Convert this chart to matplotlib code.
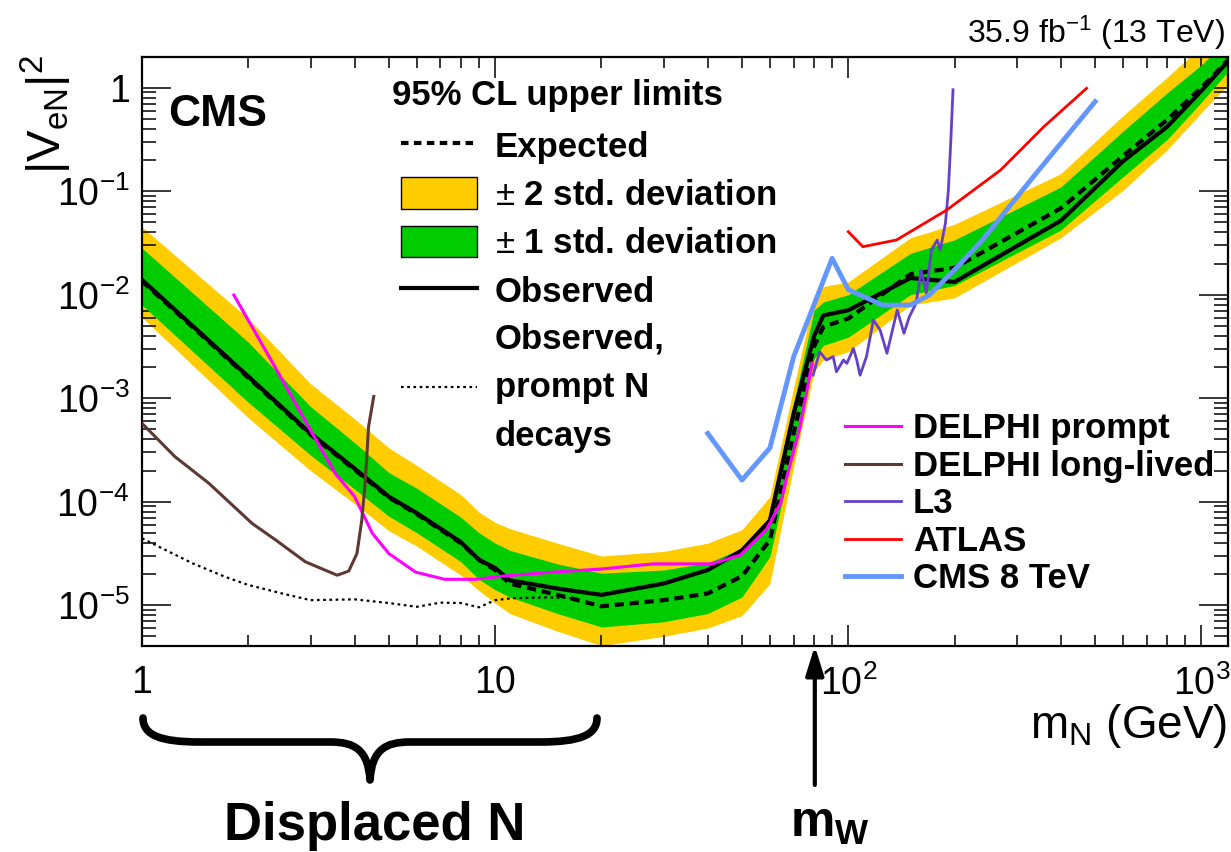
import numpy as np
import matplotlib.pyplot as plt
from matplotlib.lines import Line2D
from matplotlib.patches import Patch, PathPatch
from matplotlib.path import Path

plt.rcParams['font.family'] = ['Liberation Sans', 'DejaVu Sans']
plt.rcParams['mathtext.fontset'] = 'custom'
plt.rcParams['mathtext.rm'] = 'Liberation Sans'
plt.rcParams['mathtext.it'] = 'Liberation Sans:italic'
plt.rcParams['mathtext.bf'] = 'Liberation Sans:bold'

# heavy neutrino mass points (GeV) and 95% CL limits on |V_eN|^2
mass = [1, 2, 3, 4, 5, 6, 7, 8, 9, 10, 11, 15, 20, 30, 40, 50, 60, 70, 80, 85,
        100, 150, 200, 400, 600, 800, 1000, 1200]
obs = [1.39e-2, 1.62e-3, 4.57e-4, 2.09e-4, 1.12e-4, 7.76e-5, 5.50e-5, 4.07e-5,
       2.75e-5, 2.29e-5, 1.74e-5, 1.45e-5, 1.26e-5, 1.62e-5, 2.19e-5, 3.39e-5,
       6.61e-5, 7.08e-4, 3.98e-3, 6.31e-3, 7.08e-3, 1.45e-2, 1.33e-2, 5.19e-2,
       0.195, 0.420, 0.933, 1.86]
exp_lim = [1.35e-2, 1.58e-3, 4.47e-4, 2.04e-4, 1.10e-4, 7.59e-5, 5.37e-5, 3.98e-5,
           2.75e-5, 2.19e-5, 1.62e-5, 1.26e-5, 9.77e-6, 1.12e-5, 1.30e-5, 1.91e-5,
           4.27e-5, 4.57e-4, 3.16e-3, 4.90e-3, 5.89e-3, 1.58e-2, 1.82e-2, 6.84e-2,
           0.219, 0.490, 1.0, 1.91]
exp_m2 = [6.03e-3, 6.46e-4, 2.00e-4, 9.55e-5, 5.25e-5, 3.72e-5, 2.63e-5, 1.95e-5,
          1.38e-5, 1.05e-5, 8.32e-6, 5.62e-6, 4.07e-6, 5.01e-6, 6.03e-6, 7.94e-6,
          1.62e-5, 2.19e-4, 1.82e-3, 2.34e-3, 2.82e-3, 7.94e-3, 9.33e-3, 3.55e-2,
          0.102, 0.251, 0.575, 1.10]
exp_m1 = [7.94e-3, 9.12e-4, 2.82e-4, 1.32e-4, 7.24e-5, 5.01e-5, 3.55e-5, 2.63e-5,
          1.78e-5, 1.41e-5, 1.20e-5, 8.32e-6, 6.17e-6, 6.92e-6, 8.32e-6, 1.20e-5,
          2.95e-5, 3.16e-4, 2.40e-3, 3.24e-3, 3.89e-3, 1.00e-2, 1.23e-2, 4.22e-2,
          0.138, 0.316, 0.724, 1.48]
exp_p1 = [2.82e-2, 3.47e-3, 8.32e-4, 3.72e-4, 1.91e-4, 1.35e-4, 9.55e-5, 7.08e-5,
          5.01e-5, 3.98e-5, 3.39e-5, 2.51e-5, 2.04e-5, 2.19e-5, 2.57e-5, 3.55e-5,
          7.16e-5, 8.91e-4, 7.08e-3, 8.51e-3, 1.00e-2, 2.51e-2, 3.39e-2, 0.110,
          0.380, 0.891, 1.66, 3.02]
exp_p2 = [4.52e-2, 5.89e-3, 1.38e-3, 6.31e-4, 3.31e-4, 2.24e-4, 1.58e-4, 1.17e-4,
          7.94e-5, 6.31e-5, 5.50e-5, 3.98e-5, 2.99e-5, 3.31e-5, 3.98e-5, 5.37e-5,
          1.12e-4, 1.26e-3, 9.55e-3, 1.20e-2, 1.33e-2, 3.55e-2, 4.79e-2, 0.148,
          0.537, 1.26, 2.51, 4.17]

# observed limit assuming prompt N decays
prompt_mass = [1, 1.14, 1.39, 1.72, 2, 2.49, 3, 4, 5, 6, 7, 8, 9, 10, 11.2, 14, 17]
prompt_obs = [4.43e-5, 3.55e-5, 2.54e-5, 1.88e-5, 1.57e-5, 1.30e-5, 1.12e-5, 1.14e-5,
              1.05e-5, 9.66e-6, 1.06e-5, 1.05e-5, 9.55e-6, 1.12e-5, 1.17e-5, 1.19e-5,
              1.17e-5]

# other experiments
delphi_prompt_mass = [1.82, 2.38, 3.0, 3.53, 4.0, 4.49, 5.0, 5.95, 7.2, 8.8, 10.5, 14,
                      20, 28, 41, 49.4, 58.6, 64.4, 67, 73, 79]
delphi_prompt = [9.93e-3, 2.0e-3, 4.9e-4, 1.86e-4, 1.12e-4, 4.95e-5, 3.16e-5, 2.09e-5,
                 1.78e-5, 1.78e-5, 1.91e-5, 2.07e-5, 2.24e-5, 2.51e-5, 2.51e-5, 3.05e-5,
                 5.37e-5, 9.77e-5, 1.74e-4, 5.25e-4, 2.19e-3]
delphi_ll_mass = [1, 1.24, 1.545, 2.05, 2.39, 2.9, 3.57, 3.85, 4.06, 4.19, 4.29, 4.38, 4.53]
delphi_ll = [5.71e-4, 2.72e-4, 1.51e-4, 6.17e-5, 4.27e-5, 2.63e-5, 1.95e-5, 2.14e-5,
             3.16e-5, 6.61e-5, 1.62e-4, 5.31e-4, 1.04e-3]
l3_mass = [79.5, 83.0, 86.7, 90.6, 92.6, 96.9, 99.1, 103.4, 105.7, 108.0, 112.6, 117.8,
           123.1, 128.7, 137.6, 143.8, 148.9, 155.6, 160.9, 166.4, 171.9, 178.6, 182.2,
           188.4, 192, 195, 198]
l3 = [1.67e-3, 2.81e-3, 2.34e-3, 2.52e-3, 1.80e-3, 2.34e-3, 2.17e-3, 3.03e-3, 2.34e-3,
      1.67e-3, 2.52e-3, 5.70e-3, 4.56e-3, 2.72e-3, 7.11e-3, 4.24e-3, 6.12e-3, 8.26e-3,
      1.73e-2, 1.03e-2, 2.70e-2, 3.38e-2, 2.70e-2, 4.90e-2, 1.0e-1, 0.288, 0.955]
atlas_mass = [100, 110, 137, 190, 270, 358, 473]
atlas = [4.06e-2, 2.91e-2, 3.38e-2, 6.58e-2, 0.160, 0.420, 0.986]
cms8_mass = [40, 50, 60, 70, 90, 100, 125, 150, 170, 200, 240, 340, 500]
cms8 = [4.57e-4, 1.62e-4, 3.31e-4, 2.51e-3, 2.25e-2, 1.12e-2, 7.94e-3, 7.94e-3,
        1.00e-2, 1.74e-2, 3.39e-2, 0.148, 0.733]

m_W = 80.4

yellow = '#FFCC00'
green = '#00CC00'

fig = plt.figure(figsize=(12.31, 8.52), dpi=100)
ax = fig.add_axes([0.1154, 0.2418, 0.8822, 0.6913])

ax.fill_between(mass, exp_m2, exp_p2, color=yellow, lw=0, zorder=1)
ax.fill_between(mass, exp_m1, exp_p1, color=green, lw=0, zorder=2)
ax.plot(mass, exp_lim, color='black', lw=3, dashes=(2.2, 1.4), zorder=3)
ax.plot(mass, obs, color='black', lw=3, zorder=4)
ax.plot(prompt_mass, prompt_obs, color='black', lw=1.6, dashes=(1.2, 1.6), zorder=4)

ax.plot(delphi_prompt_mass, delphi_prompt, color='#FF00FF', lw=2.2, zorder=5)
ax.plot(delphi_ll_mass, delphi_ll, color='#5f3832', lw=2.2, zorder=5)
ax.plot(l3_mass, l3, color='#6441C8', lw=2.0, zorder=5)
ax.plot(atlas_mass, atlas, color='#FF0000', lw=2.0, zorder=5)
ax.plot(cms8_mass, cms8, color='#6496FF', lw=3.5, zorder=5)

ax.set_xscale('log')
ax.set_yscale('log')
ax.set_xlim(1, 1190)
ax.set_ylim(4.04e-6, 1.98)

ax.set_xticks([1, 10, 100, 1000], labels=['1', '10', '$10^{2}$', '$10^{3}$'])
ax.set_yticks([1e-5, 1e-4, 1e-3, 1e-2, 1e-1, 1],
              labels=['$10^{-5}$', '$10^{-4}$', '$10^{-3}$', '$10^{-2}$', '$10^{-1}$', '1'])
ax.tick_params(which='both', direction='in', top=True, right=True, width=1.1,
               labelsize=27)
ax.tick_params(axis='x', which='major', length=15, pad=14)
ax.tick_params(axis='x', which='minor', length=8)
ax.tick_params(axis='y', which='major', length=21, pad=9)
ax.tick_params(axis='y', which='minor', length=10)
for s in ax.spines.values():
    s.set_linewidth(1.6)

W, H = 1231.0, 852.0

ax.text(0.024, 0.883, 'CMS', transform=ax.transAxes, fontsize=32,
        fontweight='bold', va='baseline')
fig.text(0.995, 0.9495, '35.9 fb$^{-1}$ (13 TeV)', ha='right', va='baseline',
         fontsize=23)
fig.text(0.997, 1 - 738 / H, 'm$_{\\mathrm{N}}$ (GeV)', ha='right',
         va='baseline', fontsize=33)
fig.text(0.038, 1 - 55 / H, '$|\\mathrm{V}_{\\mathrm{eN}}|^{2}$', rotation=90,
         ha='center', va='top', fontsize=34)

# legend for this analysis
ax.text(0.230, 0.935, '95% CL upper limits', transform=ax.transAxes,
        fontsize=25, fontweight='bold', va='center')
h_main = [
    Line2D([], [], color='black', lw=3, dashes=(1.8, 1.3)),
    Patch(facecolor=yellow, edgecolor='black', lw=1),
    Patch(facecolor=green, edgecolor='black', lw=1),
    Line2D([], [], color='black', lw=3),
    Line2D([], [], color='black', lw=1.6, dashes=(1.2, 1.6)),
]
l_main = ['Expected', '$\\pm$ 2 std. deviation', '$\\pm$ 1 std. deviation',
          'Observed', 'Observed,\nprompt N\ndecays']
leg1 = ax.legend(h_main, l_main, loc='upper left', bbox_to_anchor=(0.2385, 0.8775),
                 frameon=False, borderpad=0, borderaxespad=0, handlelength=2.2,
                 handleheight=1.0, handletextpad=0.5, labelspacing=0.40,
                 prop={'size': 25, 'weight': 'bold'})
leg1.get_texts()[-1].set_linespacing(1.6)
ax.add_artist(leg1)

# legend for other experiments
h_other = [
    Line2D([], [], color='#FF00FF', lw=2.2),
    Line2D([], [], color='#5f3832', lw=2.2),
    Line2D([], [], color='#6441C8', lw=2.0),
    Line2D([], [], color='#FF0000', lw=2.0),
    Line2D([], [], color='#6496FF', lw=3.5),
]
l_other = ['DELPHI prompt', 'DELPHI long-lived', 'L3', 'ATLAS', 'CMS 8 TeV']
ax.legend(h_other, l_other, loc='upper left', bbox_to_anchor=(0.6473, 0.397),
          frameon=False, borderpad=0, borderaxespad=0, handlelength=1.6,
          handletextpad=0.35, labelspacing=0.13, prop={'size': 25, 'weight': 'bold'})

# W mass arrow
ax.annotate('', xy=(m_W, 0), xycoords=('data', 'axes fraction'),
            xytext=(m_W, -0.236), textcoords=('data', 'axes fraction'),
            arrowprops=dict(arrowstyle='-|>,head_length=0.8,head_width=0.25',
                            color='black', lw=3, mutation_scale=22,
                            shrinkA=0, shrinkB=0))
fig.text(830 / W, 1 - 824 / H, '$\\mathbf{m}_{\\mathbf{W}}$', ha='center',
         va='center', fontsize=36)

# brace under the displaced region
pts = [(143, 718), (143, 735), (160, 742), (200, 742), (330, 742),
       (355, 742), (368, 750), (370, 780), (372, 750), (385, 742), (410, 742),
       (540, 742), (580, 742), (597, 735), (597, 718)]
codes = [Path.MOVETO, Path.CURVE4, Path.CURVE4, Path.CURVE4, Path.LINETO,
         Path.CURVE4, Path.CURVE4, Path.CURVE4, Path.CURVE4, Path.CURVE4, Path.CURVE4,
         Path.LINETO, Path.CURVE4, Path.CURVE4, Path.CURVE4]
brace = Path([(x / W, 1 - y / H) for x, y in pts], codes)
fig.add_artist(PathPatch(brace, transform=fig.transFigure, fill=False,
                         lw=5.5, edgecolor='black', capstyle='round', joinstyle='round'))
fig.text(375 / W, 1 - 826 / H, 'Displaced N', ha='center', va='center',
         fontsize=38, fontweight='bold')

fig.savefig('out.png', dpi=100)
